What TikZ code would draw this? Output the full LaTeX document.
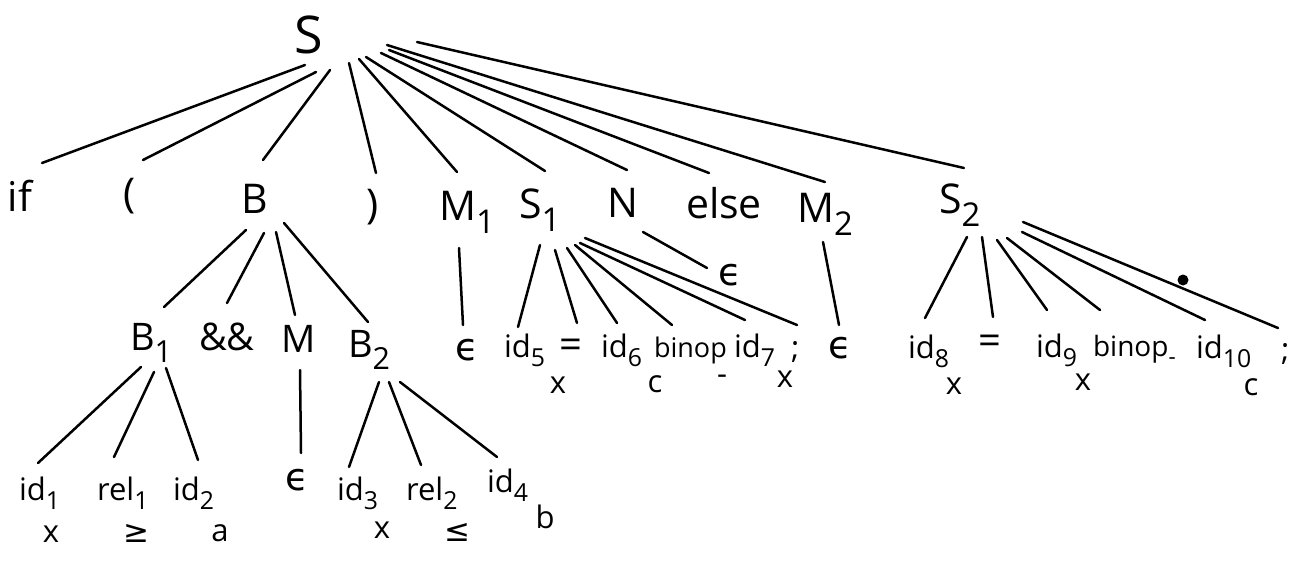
\documentclass[tikz,border=0pt]{standalone}
\usepackage{fontspec}
\setmainfont{Open Sans}
\newfontfamily\symf{DejaVu Sans}
\newcommand\sbs[1]{\raisebox{-0.32em}{\scalebox{0.8}{#1}}}
\newcommand\eps{{\symf\fontsize{38}{44}\selectfont ϵ}}
\begin{document}
\begin{tikzpicture}[x=1pt,y=-1pt,
  every node/.style={inner sep=0pt,outer sep=0pt},
  root/.style={anchor=base west,font=\fontsize{52}{60}\selectfont},
  lvA/.style={anchor=base west,font=\fontsize{41}{48}\selectfont},
  lvB/.style={anchor=base west,font=\fontsize{38}{44}\selectfont},
  leaf/.style={anchor=base west,font=\fontsize{31}{36}\selectfont},
  eqsign/.style={anchor=center,font=\fontsize{40}{44}\selectfont},
  lex/.style={anchor=center,font=\fontsize{31}{34}\selectfont},
  edge/.style={line width=2.5pt,line cap=round}]
\newcommand\link[4]{\draw[edge] ([shift={(#2)}]#1.base west) -- ([shift={(#4)}]#3.base west);}
\newcommand\linkc[4]{\draw[edge] ([shift={(#2)}]#1.base west) -- ([shift={(#4)}]#3.center);}
\fill[white] (0,0) rectangle (1311,562);
\useasboundingbox (0,0) rectangle (1311,562);

% root
\node[root] (S) at (294,53) {S};

% first level
\node[lvA] (if)   at (8,211)   {if};
\node[lvA] (lp)   at (123,207) {(};
\node[lvA] (B)    at (241,213) {B};
\node[lvA] (rp)   at (366,218) {)};
\node[lvA] (M1)   at (439,220) {M\sbs{1}};
\node[lvA] (S1)   at (519,218) {S\sbs{1}};
\node[lvA] (N)    at (607,217) {N};
\node[lvA] (else) at (686,218) {else};
\node[lvA] (M2)   at (797,222) {M\sbs{2}};
\node[lvA] (S2)   at (939,213) {S\sbs{2}};

\link{S}{11,12}{if}{34,-48}
\link{S}{22,19}{lp}{20,-47}
\link{S}{36,17}{B}{22,-53}
\link{S}{55,10}{rp}{10,-45}
\link{S}{65,6}{M1}{18,-48}
\link{S}{72,4}{S1}{26,-47}
\link{S}{87,0}{N}{20,-47}
\link{S}{95,-3}{else}{23,-45}
\link{S}{93,-8}{M2}{28,-40}
\link{S}{123,-11}{S2}{25,-45}

% children of B
\node[lvB] (B1)  at (130,350) {B\sbs{1}};
\node[lvB] (amp) at (199,350) {\&\&};
\node[lvB] (M)   at (281,352) {M};
\node[lvB] (B2)  at (348,357) {B\sbs{2}};
\link{B}{5,17}{B1}{34,-43}
\link{B}{23,20}{amp}{28,-47}
\link{B}{35,19}{M}{14,-37}
\link{B}{43,10}{B2}{20,-35}

% M1 -> epsilon
\node[leaf] (e1) at (455,360) {\eps};
\link{M1}{20,28}{e1}{8,-35}

% children of S1
\node[leaf] (id5)   at (504,357) {id\sbs{5}};
\node[eqsign] (eqA) at (571,349) {=};
\node[leaf] (id6)   at (601,357) {id\sbs{6}};
\node[leaf,font=\fontsize{27}{32}\selectfont] (binA) at (654,357) {binop};
\node[leaf] (id7)   at (734,357) {id\sbs{7}};
\node[leaf] (semiA) at (791,358) {;};
\link{S1}{21,27}{id5}{14,-30}
\linkc{S1}{36,32}{eqA}{6,-26}
\link{S1}{48,30}{id6}{16,-34}
\link{S1}{56,27}{binA}{18,-32}
\link{S1}{61,25}{id7}{11,-37}
\link{S1}{66,20}{semiA}{6,-33}
\node[lex] (x5)    at (558,385) {x};
\node[lex] (c6)    at (655,384) {c};
\node[lex] (minus) at (722,380) {-};
\node[lex] (x7)    at (785,379) {x};

% N -> epsilon
\node[leaf] (eN) at (718,285) {\eps};
\link{N}{36,15}{eN}{-11,-17}

% M2 -> epsilon
\node[leaf] (e2) at (828,358) {\eps};
\link{M2}{26,20}{e2}{11,-33}

% children of S2
\node[leaf] (id8)   at (908,358)  {id\sbs{8}};
\node[eqsign] (eqB) at (990,345) {=};
\node[leaf] (id9)   at (1036,357) {id\sbs{9}};
\node[leaf,font=\fontsize{28}{32}\selectfont] (binB) at (1093,356) {binop\sbs{-}};
\node[leaf] (id10)  at (1196,358) {id\sbs{10}};
\node[leaf] (semiB) at (1281,360) {;};
\link{S2}{28,24}{id8}{17,-40}
\linkc{S2}{43,24}{eqB}{3,-28}
\link{S2}{58,27}{id9}{11,-47}
\link{S2}{68,25}{binB}{7,-46}
\link{S2}{83,19}{id10}{9,-38}
\link{S2}{84,9}{semiB}{-3,-32}
\node[lex] (x8)  at (954,386)  {x};
\node[lex] (x9)  at (1083,382) {x};
\node[lex] (c10) at (1251,387) {c};
\fill (1183,280) circle (5.5);

% children of B1
\node[leaf] (id1)  at (19,500)  {id\sbs{1}};
\node[leaf] (rel1) at (97,500)  {rel\sbs{1}};
\node[leaf] (id2)  at (173,500) {id\sbs{2}};
\link{B1}{11,17}{id1}{19,-37}
\link{B1}{24,22}{rel1}{17,-43}
\link{B1}{36,18}{id2}{25,-40}
\node[lex] (x1) at (51,534)  {x};
\node[lex] (ge) at (136,533) {\symf ≥};
\node[lex] (a)  at (220,533) {a};

% M -> epsilon
\node[leaf] (e0) at (285,490) {\eps};
\link{M}{19,18}{e0}{16,-37}

% children of B2
\node[leaf] (id3)  at (337,500) {id\sbs{3}};
\node[leaf] (rel2) at (406,500) {rel\sbs{2}};
\node[leaf] (id4)  at (487,492) {id\sbs{4}};
\link{B2}{31,25}{id3}{12,-33}
\link{B2}{41,25}{rel2}{15,-35}
\link{B2}{52,25}{id4}{10,-35}
\node[lex] (x3) at (382,530) {x};
\node[lex] (le) at (457,532) {\symf ≤};
\node[lex] (b)  at (545,517) {b};
\end{tikzpicture}
\end{document}
